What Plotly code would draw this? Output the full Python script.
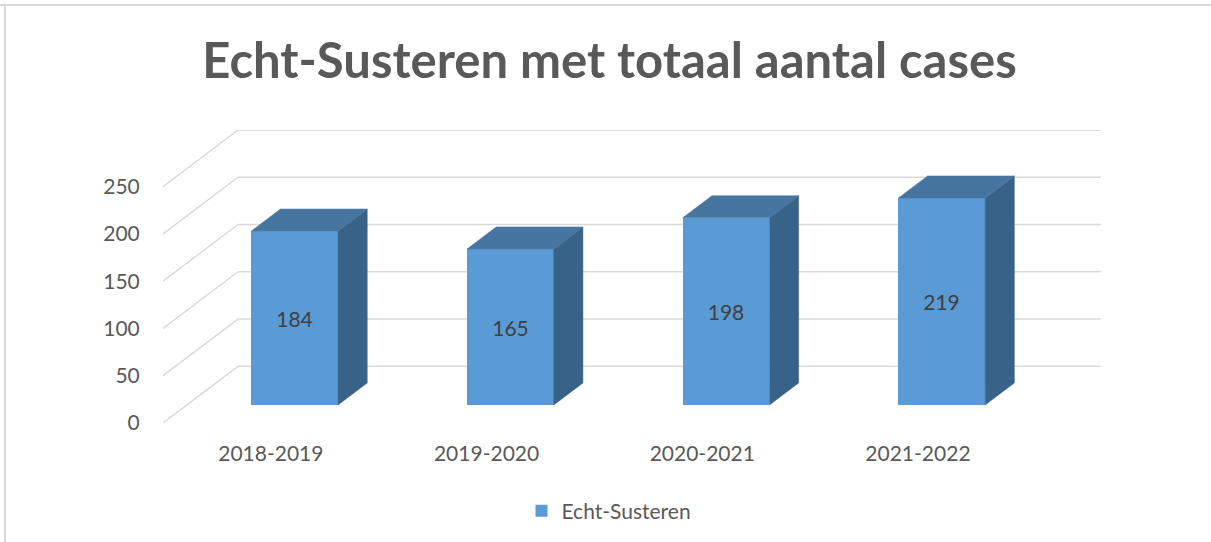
import plotly.graph_objects as go

# ---- data ----
categories = ["2018-2019", "2019-2020", "2020-2021", "2021-2022"]
cases = [184, 165, 198, 219]
series_name = "Echt-Susteren"
y_ticks = [0, 50, 100, 150, 200, 250]
title_text = "Echt-Susteren met totaal aantal cases"

# ---- geometry of the oblique 3D projection (data units) ----
W, H = 1211, 542
ML, MR, MT, MB = 163, 110, 130, 119
PX_PER_CAT = 215.7
DEPTH_X = 75 / PX_PER_CAT      # full floor depth, horizontal shift (category units)
DEPTH_Y = 60.0                 # full floor depth, vertical shift (value units)
BAR_D0, BAR_D1 = 0.318, 0.707  # bar front / back depth fraction
BAR_W = 0.402
plot_w = W - ML - MR
x_range = [-0.5, -0.5 + plot_w / PX_PER_CAT]
y_range = [0, max(y_ticks) + DEPTH_Y]

FRONT = "#5B9BD5"
TOP = "#4675A0"
SIDE = "#386287"
GRID = "#D9D9D9"
TEXT = "#595959"
FONT = "Lato"

fig = go.Figure()

# bar front faces
fx = [i + BAR_D0 * DEPTH_X for i in range(len(categories))]
base = BAR_D0 * DEPTH_Y
fig.add_trace(go.Bar(
    x=fx, y=cases, base=[base] * len(cases), width=BAR_W,
    marker=dict(color=FRONT, line=dict(width=0)),
    name=series_name, text=[str(v) for v in cases],
    textposition="inside", insidetextanchor="middle", textangle=0,
    insidetextfont=dict(color="#404040", size=21, family=FONT),
    hoverinfo="skip", showlegend=True,
))

# side and top faces
ddx = (BAR_D1 - BAR_D0) * DEPTH_X
ddy = (BAR_D1 - BAR_D0) * DEPTH_Y
for i, v in enumerate(cases):
    x0 = fx[i] - BAR_W / 2
    x1 = fx[i] + BAR_W / 2
    top = base + v
    fig.add_trace(go.Scatter(
        x=[x1, x1 + ddx, x1 + ddx, x1, x1],
        y=[base, base + ddy, top + ddy, top, base],
        mode="lines", fill="toself", fillcolor=SIDE,
        line=dict(color=SIDE, width=0.5), showlegend=False, hoverinfo="skip"))
    fig.add_trace(go.Scatter(
        x=[x0, x1, x1 + ddx, x0 + ddx, x0],
        y=[top, top, top + ddy, top + ddy, top],
        mode="lines", fill="toself", fillcolor=TOP,
        line=dict(color=TOP, width=0.5), showlegend=False, hoverinfo="skip"))

# walls gridlines (shapes below traces)
shapes = []
xl = -0.5
xr = len(categories) - 0.5
for v in y_ticks:
    shapes.append(dict(type="line", xref="x", yref="y", layer="below",
                       x0=xl, y0=v, x1=xl + DEPTH_X, y1=v + DEPTH_Y,
                       line=dict(color=GRID, width=1.5)))
    shapes.append(dict(type="line", xref="x", yref="y", layer="below",
                       x0=xl + DEPTH_X, y0=v + DEPTH_Y, x1=xr + DEPTH_X, y1=v + DEPTH_Y,
                       line=dict(color=GRID, width=1.5)))

# chart border (top and left), in paper coords
pw = plot_w
ph = H - MT - MB
def px_x(p):
    return (p - ML) / pw
def px_y(p):
    return (H - MB - p) / ph
shapes.append(dict(type="line", xref="paper", yref="paper", layer="above",
                   x0=px_x(0), y0=px_y(5), x1=px_x(W), y1=px_y(5),
                   line=dict(color="#D9D9D9", width=2)))
shapes.append(dict(type="line", xref="paper", yref="paper", layer="above",
                   x0=px_x(5), y0=px_y(5), x1=px_x(5), y1=px_y(H),
                   line=dict(color="#D9D9D9", width=2)))

fig.update_layout(
    width=W, height=H, autosize=False,
    margin=dict(l=ML, r=MR, t=MT, b=MB, pad=0),
    paper_bgcolor="white", plot_bgcolor="rgba(0,0,0,0)",
    shapes=shapes,
    title=dict(text=title_text, x=609.5 / W, xref="container", xanchor="center",
               y=1 - 61 / H, yref="container", yanchor="middle",
               font=dict(family=FONT, size=49, color=TEXT, weight="bold")),
    xaxis=dict(range=x_range, tickmode="array", tickvals=list(range(len(categories))),
               ticktext=categories, showgrid=False, zeroline=False, showline=False,
               ticks="outside", ticklen=12, tickcolor="rgba(0,0,0,0)",
               tickfont=dict(family=FONT, size=21, color=TEXT), fixedrange=True),
    yaxis=dict(range=y_range, tickmode="array", tickvals=y_ticks,
               showgrid=False, zeroline=False, showline=False,
               ticks="outside", ticklen=18, tickcolor="rgba(0,0,0,0)",
               tickfont=dict(family=FONT, size=21, color=TEXT), fixedrange=True),
    legend=dict(orientation="h", xref="container", yref="container",
                x=609 / W, xanchor="center", y=1 - 511 / H, yanchor="middle",
                font=dict(family=FONT, size=21, color=TEXT)),
    showlegend=True,
    bargap=0,
)

fig.write_html("out.html", config={"displayModeBar": False},
               post_script="document.body.style.margin='0';")
